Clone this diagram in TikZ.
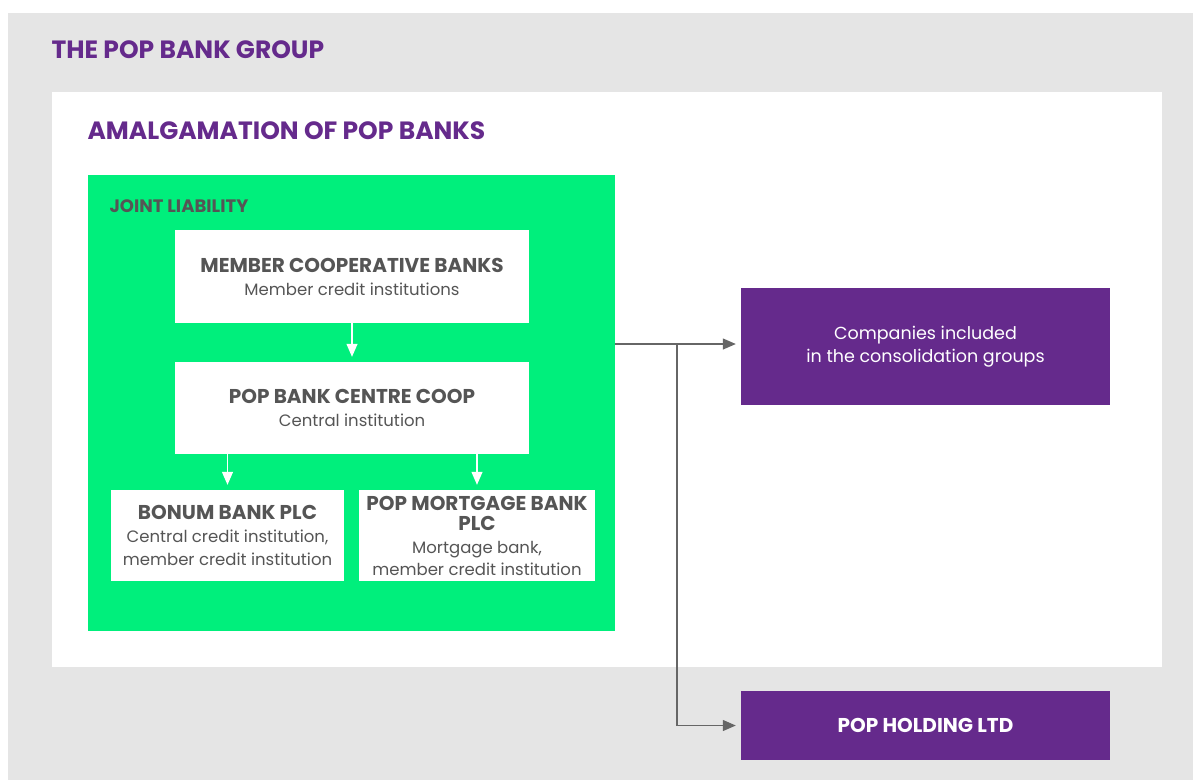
\documentclass[tikz,border=0pt]{standalone}
\usepackage{fontspec}
\setmainfont{Poppins}
\usetikzlibrary{arrows.meta,calc}
\definecolor{bggray}{HTML}{E5E5E5}
\definecolor{popgreen}{HTML}{00EF7C}
\definecolor{poppurple}{HTML}{652A8C}
\definecolor{darktext}{HTML}{555555}
\definecolor{linegray}{HTML}{666666}
\tikzset{
  whitebox/.style={fill=white, draw=none, inner sep=2pt, align=center, text=darktext, font=\fontsize{16.5}{23}\selectfont},
  purplebox/.style={fill=poppurple, draw=none, align=center, text=white, font=\fontsize{17.5}{23}\selectfont},
  heading/.style={anchor=west, text=poppurple, font=\fontsize{25}{30}\selectfont\bfseries},
  whitearrow/.style={draw=white, line width=1.2pt, -{Triangle[width=11pt,length=13pt]}, shorten >=5pt},
  grayarrow/.style={draw=linegray, line width=1.2pt, -{Triangle[width=11pt,length=13pt]}, shorten >=5pt},
}
\newcommand{\bt}{\fontsize{20}{23}\selectfont\bfseries}
\begin{document}
\begin{tikzpicture}[x=1pt,y=-1pt]
\useasboundingbox (0,0) rectangle (1193,780);
\fill[bggray] (8,13) rectangle (1193,780);
\fill[white] (52,92) rectangle (1162,667);
\node[heading] (group) at (48,50) {THE POP BANK GROUP};
\node[heading] (amal) at (84,131) {AMALGAMATION OF POP BANKS};
\node[fill=popgreen, minimum width=527pt, minimum height=456pt, inner sep=0pt] (green) at (351.5,403) {};
\node[anchor=west, text=darktext, font=\fontsize{18}{21}\selectfont\bfseries] (joint) at (106,206) {JOINT LIABILITY};
\node[whitebox, minimum width=354pt, minimum height=93pt] (member) at (352,276.5)
  {{\bt MEMBER COOPERATIVE BANKS}\\Member credit institutions};
\node[whitebox, minimum width=354pt, minimum height=92pt] (centre) at (352,408)
  {{\bt POP BANK CENTRE COOP}\\Central institution};
\node[whitebox, minimum width=233pt, minimum height=91pt] (bonum) at (227.5,535.5)
  {{\bt BONUM BANK PLC}\\Central credit institution,\\member credit institution};
\node[whitebox, minimum width=236pt, minimum height=91pt] (mortgage) at (477,535.5)
  {{\bt POP MORTGAGE BANK}\\[-3pt]{\bt PLC}\\Mortgage bank,\\[-1pt]member credit institution};
\node[purplebox, minimum width=369pt, minimum height=117pt] (companies) at (925.5,346.5)
  {Companies included\\in the consolidation groups};
\node[purplebox, minimum width=369pt, minimum height=69pt, font=\fontsize{20}{23}\selectfont\bfseries] (holding) at (925.5,725.5)
  {POP HOLDING LTD};
\draw[whitearrow] (member.south) -- (centre.north);
\draw[whitearrow] (centre.south -| bonum.north) -- (bonum.north);
\draw[whitearrow] (centre.south -| mortgage.north) -- (mortgage.north);
\coordinate (br) at (677,344);
\draw[grayarrow] (green.east |- br) -- (br) -- (br -| companies.west);
\draw[grayarrow] (br) |- (holding.west);
\end{tikzpicture}
\end{document}
